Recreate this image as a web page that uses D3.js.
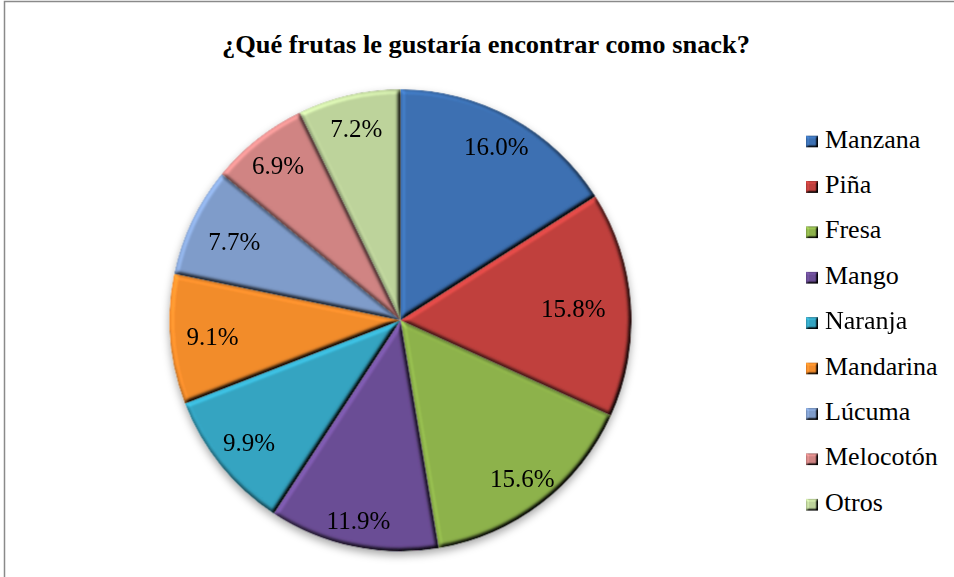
<!DOCTYPE html>
<html>
<head>
<meta charset="utf-8">
<script src="https://cdn.jsdelivr.net/npm/d3@7"></script>
<style>
  html, body { margin: 0; padding: 0; background: #fff; }
  svg { display: block; }
  svg text { font-family: "Liberation Serif", "Times New Roman", Times, serif; }
</style>
</head>
<body>
<div id="chart"></div>
<script>
// Data
const fruits = ["Manzana", "Piña", "Fresa", "Mango", "Naranja", "Mandarina", "Lúcuma", "Melocotón", "Otros"];
const shares = [16.0, 15.8, 15.6, 11.9, 9.9, 9.1, 7.7, 6.9, 7.2];
const colors = ["#3c70b2", "#c0403d", "#8db24b", "#6b4d95", "#34a4c1", "#f28c2c", "#7f9cca", "#d08483", "#bdd39b"];
// label distance from centre along the bisector (fraction of radius), as Excel's best fit put them
const labelRadius = [0.862, 0.75, 0.864, 0.886, 0.843, 0.817, 0.797, 0.855, 0.853];
const title = "¿Qué frutas le gustaría encontrar como snack?";

const width = 954, height = 577;
const cx = 400.5, cy = 320.3, radius = 231;

const svg = d3.select("#chart").append("svg")
    .attr("width", width)
    .attr("height", height);

const defs = svg.append("defs");

// drop shadow under the pie
const shadow = defs.append("filter")
    .attr("id", "shadow")
    .attr("x", "-20%").attr("y", "-20%")
    .attr("width", "140%").attr("height", "140%");
shadow.append("feDropShadow")
    .attr("dx", 0).attr("dy", 4)
    .attr("stdDeviation", 4)
    .attr("flood-color", "#000")
    .attr("flood-opacity", 0.35);

// bevel: lighting on blurred alpha, multiplied back on the fill
function bevel(id, blur, scale) {
  const f = defs.append("filter")
      .attr("id", id)
      .attr("x", "-5%").attr("y", "-5%")
      .attr("width", "110%").attr("height", "110%")
      .attr("color-interpolation-filters", "sRGB");
  f.append("feGaussianBlur")
      .attr("in", "SourceAlpha")
      .attr("stdDeviation", blur)
      .attr("result", "blur");
  f.append("feDiffuseLighting")
      .attr("in", "blur")
      .attr("surfaceScale", scale)
      .attr("diffuseConstant", 1)
      .attr("lighting-color", "#fff")
      .attr("result", "light")
    .append("feDistantLight")
      .attr("azimuth", 225)
      .attr("elevation", 55);
  f.append("feComposite")
      .attr("in", "SourceGraphic")
      .attr("in2", "light")
      .attr("operator", "arithmetic")
      .attr("k1", 1.22).attr("k2", 0).attr("k3", 0).attr("k4", 0)
      .attr("result", "lit");
  f.append("feComposite")
      .attr("in", "lit")
      .attr("in2", "SourceAlpha")
      .attr("operator", "in");
}
bevel("bevel", 2.2, 4);
bevel("bevelSmall", 1, 3);

// chart frame
svg.append("rect")
    .attr("x", 4.5).attr("y", 1.5)
    .attr("width", 980).attr("height", 620)
    .attr("fill", "none")
    .attr("stroke", "#8a8a8a")
    .attr("stroke-width", 1.5);

// title
svg.append("text")
    .attr("x", 486).attr("y", 53)
    .attr("text-anchor", "middle")
    .attr("font-weight", "bold")
    .attr("font-size", 26)
    .attr("textLength", 528)
    .attr("lengthAdjust", "spacingAndGlyphs")
    .text(title);

// pie
const data = fruits.map((f, i) => ({ name: f, value: shares[i], color: colors[i], lr: labelRadius[i] }));

const pie = d3.pie()
    .value(d => d.value)
    .sort(null);

const arc = d3.arc()
    .innerRadius(0)
    .outerRadius(radius);

const arcs = pie(data);

const g = svg.append("g")
    .attr("transform", `translate(${cx},${cy})`);

const slices = g.append("g")
    .attr("filter", "url(#shadow)");

slices.selectAll("path")
  .data(arcs)
  .join("path")
    .attr("d", arc)
    .attr("fill", d => d.data.color)
    .attr("filter", "url(#bevel)");

g.append("g")
  .selectAll("text")
  .data(arcs)
  .join("text")
    .attr("transform", d => {
      const r = radius * d.data.lr;
      return `translate(${d3.arc().innerRadius(r).outerRadius(r).centroid(d)})`;
    })
    .attr("dy", "0.35em")
    .attr("text-anchor", "middle")
    .attr("font-size", 25)
    .attr("fill", "#000")
    .text(d => d.data.value.toFixed(1) + "%");

// legend
const legend = svg.append("g")
    .attr("transform", "translate(806,147.5)");

const item = legend.selectAll("g")
  .data(data)
  .join("g")
    .attr("transform", (d, i) => `translate(0,${i * 45.4})`);

item.append("rect")
    .attr("x", 0).attr("y", -12)
    .attr("width", 12).attr("height", 12)
    .attr("fill", d => d.color)
    .attr("filter", "url(#bevelSmall)");

item.append("text")
    .attr("x", 19).attr("y", 0)
    .attr("font-size", 26)
    .attr("fill", "#000")
    .text(d => d.name);
</script>
</body>
</html>
